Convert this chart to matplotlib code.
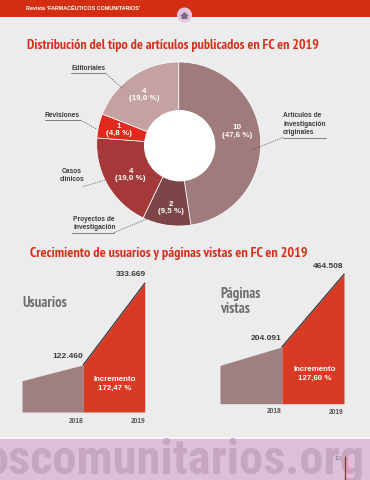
import matplotlib
matplotlib.use("Agg")
import matplotlib.pyplot as plt
from matplotlib.patches import Circle, Polygon, Rectangle

# ---- data ----
pie_counts = [10, 2, 4, 1, 4]
pie_shares = ["47,6", "9,5", "19,0", "4,8", "19,0"]
pie_colors = ["#9f7b7d", "#7c4547", "#a5393a", "#e0281c", "#c4a2a2"]
years = ["2018", "2019"]
users = [81000, 122460, 333669]
pages = [137500, 204091, 464508]
users_growth = "172,47 %"
pages_growth = "127,60 %"

W, H = 370, 480
NARROW = ["PT Sans Narrow", "Liberation Sans", "DejaVu Sans"]
COND = ["Roboto Condensed", "PT Sans Narrow", "Liberation Sans", "DejaVu Sans"]
SANS = ["Liberation Sans", "DejaVu Sans"]
BG = "#ececec"; RED = "#d92d1c"; AREA = "#a07f81"; FILL = "#d93a24"; INK = "#3b3b40"

fig = plt.figure(figsize=(W / 100, H / 100), dpi=100, facecolor=BG)

def px_axes(x0, y0, x1, y1, **kw):
    return fig.add_axes([x0 / W, 1 - y1 / H, (x1 - x0) / W, (y1 - y0) / H], **kw)

# donut
pie_ax = px_axes(96.7, 62, 260.7, 226)
pie_ax.pie(pie_counts, colors=pie_colors, startangle=90, counterclock=False, radius=1,
           wedgeprops=dict(edgecolor="white", linewidth=0.5))
pie_ax.set_xlim(-1, 1); pie_ax.set_ylim(-1, 1); pie_ax.axis("off")

def area(ax_box, values):
    ax = px_axes(*ax_box)
    ax.fill_between([0, 1], [values[0], values[1]], 0, color=AREA, lw=0)
    ax.fill_between([1, 2], [values[1], values[2]], 0, color=FILL, lw=0)
    ax.plot([1, 2], [values[1], values[2]], color="#333338", lw=0.9, clip_on=False)
    ax.set_xlim(0, 2); ax.set_ylim(0, values[2]); ax.axis("off")

area((22, 283.3, 144.7, 412), users)
area((220, 274.3, 344, 403.7), pages)

# overlay in pixel coordinates
ov = fig.add_axes([0, 0, 1, 1], zorder=5)
ov.set_xlim(0, W); ov.set_ylim(H, 0); ov.axis("off")

ov.add_patch(Rectangle((0, 0), W, 17, color="#d42e12", lw=0))
ov.add_patch(Rectangle((0, 17), W, 1.5, color="#f4f4f4", lw=0))
ov.add_patch(Rectangle((0, 437), W, 2, color="#f6f6f6", lw=0))
ov.add_patch(Rectangle((0, 439), W, 41, color="#dcc0d9", lw=0))
ov.add_patch(Circle((184.5, 15), 7.5, color="#e2c6e0", lw=0))
ov.add_patch(Polygon([(180, 16), (184.5, 12), (189, 16), (187.5, 16), (187.5, 19), (181.5, 19), (181.5, 16)],
                     color="#7d6a80", lw=0))
ov.text(26.5, 8, "Revista \u2018FARMACÉUTICOS COMUNITARIOS\u2019", color="white", fontsize=3.85,
        fontweight="bold", family=SANS, va="center", ha="left")
ov.text(-16, 474, "oscomunitarios.org", color="#c7a6c2", fontsize=35, fontweight="bold",
        family=COND, va="baseline", ha="left", clip_on=True)
ov.text(338.5, 458, "111", color="#777777", fontsize=3.5, ha="center", va="center", family=SANS)
ov.plot([344.5, 344.5], [456, 480], color="#d8102a", lw=0.9, solid_capstyle="butt", zorder=6)

ov.text(27, 45, "Distribución del tipo de artículos publicados en FC en 2019", color=RED, fontsize=10,
        fontweight="bold", family=NARROW, va="center", ha="left")
ov.text(30, 254, "Crecimiento de usuarios y páginas vistas en FC en 2019", color=RED, fontsize=10.2,
        fontweight="bold", family=NARROW, va="center", ha="left")

ov.add_patch(Circle((179.7, 145.7), 35.7, color="white", lw=0))

# donut value labels
label_xy = [(236.7, 131.7), (171, 208), (130.7, 175), (119, 130), (144, 95)]
for n, s, (x, y) in zip(pie_counts, pie_shares, label_xy):
    ov.text(x, y, f"{n}\n({s} %)", color="white", fontsize=5.8, fontweight="bold", family=SANS,
            ha="center", va="center", linespacing=1.15)

def note(x, y, txt, ha="left"):
    ov.text(x, y, txt, color=INK, fontsize=4.8, fontweight="bold", family=SANS, ha=ha, va="center",
            linespacing=1.35)

def leader(solid, dashed):
    if solid:
        ov.plot(*zip(*solid), color="#555555", lw=0.5)
    ov.plot(*zip(*dashed), color="#555555", lw=0.5, ls=(0, (2, 1.5)))

note(71, 68.5, "Editoriales"); leader([(71, 72.7), (105, 72.7)], [(105, 72.7), (123, 89)])
note(44.7, 115.7, "Revisiones"); leader([(44.7, 120), (80, 120)], [(80, 120), (96.7, 129)])
note(72, 175.5, "Casos\nclínicos", ha="center"); leader(None, [(83, 186.7), (105, 180)])
note(73, 223.5, "Proyectos de\ninvestigación"); leader([(72, 232.7), (114, 232.7)], [(114, 232.7), (146.7, 219)])
note(283, 124, "Artículos de\ninvestigación\noriginales"); leader([(283, 137.5), (326, 137.5)], [(283, 137.5), (250, 150.7)])

# area chart texts
ov.text(22.5, 303, "Usuarios", color="#6d6d72", fontsize=10.5, fontweight="bold", family=NARROW, va="center")
ov.text(220, 294, "Páginas", color="#6d6d72", fontsize=10.5, fontweight="bold", family=NARROW, va="center")
ov.text(220, 309, "vistas", color="#6d6d72", fontsize=10.5, fontweight="bold", family=NARROW, va="center")

def fmt(v):
    return f"{v:,}".replace(",", ".")

def num(x, y, v):
    ov.text(x, y, fmt(v), color=INK, fontsize=6, fontweight="bold", family=SANS, ha="right", va="center")

num(83, 357, users[1]); num(145.5, 275, users[2])
num(281.5, 339, pages[1]); num(343.5, 267, pages[2])

for x, y, t in [(76, 421.7, years[0]), (137.7, 421.7, years[1]), (274.5, 411.5, years[0]), (336, 412.5, years[1])]:
    ov.text(x, y, t, color="#55555a", fontsize=4.8, fontweight="bold", family=SANS, ha="center", va="center")

ov.text(115, 383.5, f"Incremento\n{users_growth}", color="white", fontsize=5.7, fontweight="bold", family=SANS,
        ha="center", va="center", linespacing=1.35)
ov.text(315, 373.5, f"Incremento\n{pages_growth}", color="white", fontsize=5.7, fontweight="bold", family=SANS,
        ha="center", va="center", linespacing=1.35)

fig.savefig("out.png", dpi=100, facecolor=BG)
